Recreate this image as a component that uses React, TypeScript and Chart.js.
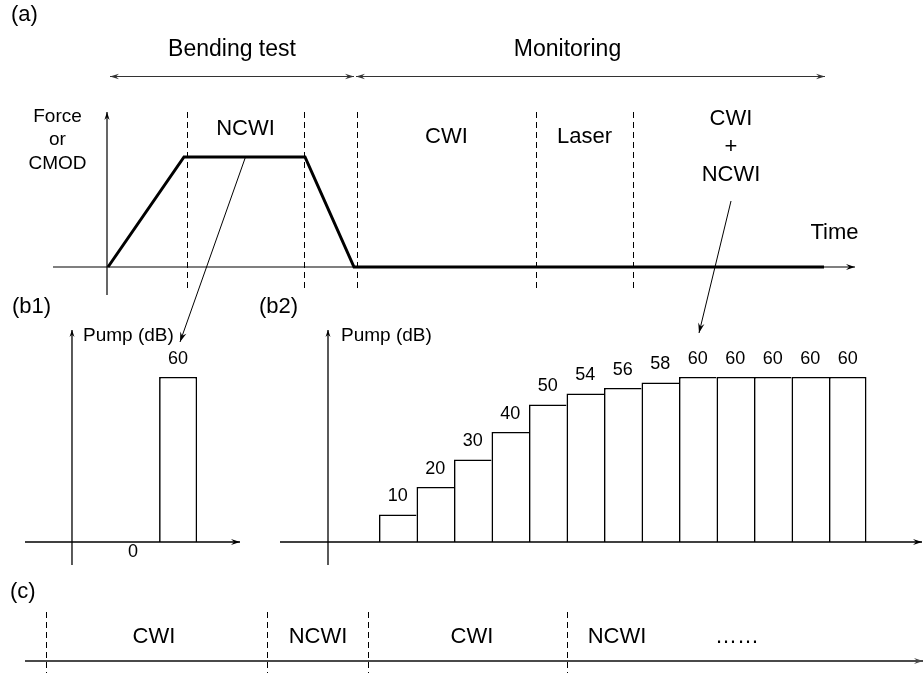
import React, { useEffect, useRef } from 'react';
import { Chart, registerables } from 'chart.js';

Chart.register(...registerables);

const FONT = '"Liberation Sans", Arial, Helvetica, sans-serif';
const W = 924;
const H = 674;

// ---------- Panel (a): loading history ----------
const aTime = [0.1, 7.7, 19.8, 24.7, 71.7];
const aForce = [0, 1, 1, 0, 0];
const aPhases = ['NCWI', 'CWI', 'Laser', 'CWI\n+\nNCWI'];
const aPhaseStart = [8.0, 25.0, 42.9, 52.6];
const aPhaseEnd = [19.7, 42.9, 52.6, 72.2];
const aStages = ['Bending test', 'Monitoring'];
const aStageStart = [0.3, 24.9];
const aStageEnd = [24.7, 71.8];
const aStageLabelAt = [12.5, 46.05];
const aTimeLabelAt = 72.75;

// ---------- Panel (b1): single pump step ----------
const b1Steps = [1.63, 2.83];
const b1Pump = [0, 60];

// ---------- Panel (b2): ramped pump steps ----------
const b2Steps = [1, 2, 3, 4, 5, 6, 7, 8, 9, 10, 11, 12, 13];
const b2Pump = [10, 20, 30, 40, 50, 54, 56, 58, 60, 60, 60, 60, 60];
const b2AxisAt = -0.86;

// ---------- Panel (c): alternating sequence ----------
const cPhases = ['CWI', 'NCWI', 'CWI', 'NCWI'];
const cBoundaries = [0, 22.1, 32.2, 52.1];
const cLabelAt = [10.8, 27.2, 42.6, 57.1];
const cEllipsisAt = 69.1;

// ---------- drawing helpers ----------
function txt(ctx: CanvasRenderingContext2D, s: string, x: number, y: number, size: number, align: CanvasTextAlign = 'center') {
  ctx.save();
  ctx.font = `${size}px ${FONT}`;
  ctx.fillStyle = '#000';
  ctx.textAlign = align;
  ctx.textBaseline = 'alphabetic';
  ctx.fillText(s, x, y);
  ctx.restore();
}

function head(ctx: CanvasRenderingContext2D, x: number, y: number, ang: number, len = 8, hw = 3) {
  ctx.save();
  ctx.translate(x, y);
  ctx.rotate(ang);
  ctx.beginPath();
  ctx.moveTo(0, 0);
  ctx.lineTo(-len, -hw);
  ctx.lineTo(-len * 0.65, 0);
  ctx.lineTo(-len, hw);
  ctx.closePath();
  ctx.fill();
  ctx.restore();
}

function arrow(
  ctx: CanvasRenderingContext2D,
  x1: number, y1: number, x2: number, y2: number,
  o: { w?: number; color?: string; start?: boolean; end?: boolean; len?: number; hw?: number } = {}
) {
  const { w = 1, color = '#000', start = false, end = true, len = 8, hw = 3 } = o;
  ctx.save();
  ctx.strokeStyle = color;
  ctx.fillStyle = color;
  ctx.lineWidth = w;
  ctx.beginPath();
  ctx.moveTo(x1, y1);
  ctx.lineTo(x2, y2);
  ctx.stroke();
  const ang = Math.atan2(y2 - y1, x2 - x1);
  if (end) head(ctx, x2, y2, ang, len, hw);
  if (start) head(ctx, x1, y1, ang + Math.PI, len, hw);
  ctx.restore();
}

function dashed(ctx: CanvasRenderingContext2D, x: number, y1: number, y2: number) {
  ctx.save();
  ctx.strokeStyle = '#000';
  ctx.lineWidth = 1;
  ctx.setLineDash([6, 4]);
  ctx.beginPath();
  ctx.moveTo(Math.round(x) + 0.5, y1);
  ctx.lineTo(Math.round(x) + 0.5, y2);
  ctx.stroke();
  ctx.restore();
}

function baseOptions(area: { l: number; t: number; r: number; b: number }, xr: number[], yr: number[]) {
  return {
    responsive: false,
    maintainAspectRatio: false,
    animation: false,
    events: [],
    layout: { padding: { left: area.l, top: area.t, right: W - area.r, bottom: H - area.b } },
    plugins: { legend: { display: false }, tooltip: { enabled: false }, title: { display: false } },
    scales: {
      x: { type: 'linear', display: false, offset: false, min: xr[0], max: xr[1] },
      y: { type: 'linear', display: false, min: yr[0], max: yr[1] },
    },
  };
}

// ---------- panel (a) ----------
const panelAPlugin = {
  id: 'panelA',
  beforeDatasetsDraw(chart: any) {
    const { ctx, chartArea: ca, scales } = chart;
    const x = scales.x;
    const y = scales.y;
    const y0 = y.getPixelForValue(0);
    const x0 = x.getPixelForValue(0);
    arrow(ctx, ca.left, y0, ca.right, y0, { w: 1.2, len: 9, hw: 3 });
    arrow(ctx, x0, ca.bottom, x0, ca.top, { w: 1.2, len: 8, hw: 2.6 });
    const bounds = Array.from(new Set([...aPhaseStart, ...aPhaseEnd.slice(0, -1)]));
    bounds.forEach((t) => dashed(ctx, x.getPixelForValue(t), ca.top, ca.bottom - 3));
  },
  afterDatasetsDraw(chart: any) {
    const { ctx, scales } = chart;
    const x = scales.x;
    const y = scales.y;
    txt(ctx, '(a)', 11, 21, 22, 'left');
    // stages
    aStages.forEach((s, i) => {
      arrow(ctx, x.getPixelForValue(aStageStart[i]), 76.5, x.getPixelForValue(aStageEnd[i]), 76.5, {
        w: 1.2, color: '#333', start: true, end: true, len: 9, hw: 2.8,
      });
      txt(ctx, s, x.getPixelForValue(aStageLabelAt[i]), 56, 23);
    });
    // y label
    txt(ctx, 'Force', 57.5, 122, 19);
    txt(ctx, 'or', 57.5, 145, 19);
    txt(ctx, 'CMOD', 57.5, 169, 19);
    // phase labels
    const baselines = [135, 143, 143, 125];
    aPhases.forEach((p, i) => {
      const cx = x.getPixelForValue((aPhaseStart[i] + aPhaseEnd[i]) / 2);
      p.split('\n').forEach((line, k) => txt(ctx, line, cx, baselines[i] + k * 28, 22));
    });
    txt(ctx, 'Time', x.getPixelForValue(aTimeLabelAt), 239, 22);
    // connectors to (b1) and (b2)
    const ncwiMid = (aPhaseStart[0] + aPhaseEnd[0]) / 2;
    arrow(ctx, x.getPixelForValue(ncwiMid), y.getPixelForValue(1), 180, 342, { w: 1, len: 10, hw: 3.2 });
    const mixMid = (aPhaseStart[3] + aPhaseEnd[3]) / 2;
    arrow(ctx, x.getPixelForValue(mixMid), 201, 699, 333, { w: 1, len: 10, hw: 3.2 });
  },
};

function makeA(): any {
  return {
    type: 'line',
    data: {
      datasets: [
        {
          data: aTime.map((t, i) => ({ x: t, y: aForce[i] })),
          borderColor: '#000',
          borderWidth: 3,
          pointRadius: 0,
          tension: 0,
          fill: false,
          borderJoinStyle: 'miter',
        },
      ],
    },
    options: baseOptions({ l: 53, t: 112, r: 855, b: 295 }, [-5.4, 74.8], [-0.2545, 1.409]),
    plugins: [panelAPlugin],
  };
}

// ---------- panel (b) helpers ----------
function pumpAxesPlugin(id: string, label: string, labelX: number, axisAt: number, pumpLabelX: number) {
  return {
    id,
    afterDatasetsDraw(chart: any) {
      const { ctx, chartArea: ca, scales } = chart;
      const x = scales.x;
      const y = scales.y;
      const y0 = y.getPixelForValue(0);
      const xa = x.getPixelForValue(axisAt);
      arrow(ctx, ca.left, y0, ca.right, y0, { w: 1.4, len: 9, hw: 3 });
      arrow(ctx, xa, ca.bottom, xa, ca.top, { w: 1.3, len: 7, hw: 2.5 });
      txt(ctx, label, labelX, 313, 22, 'left');
      txt(ctx, 'Pump (dB)', pumpLabelX, 341, 19, 'left');
      const meta = chart.getDatasetMeta(0);
      const values = chart.data.datasets[0].data;
      meta.data.forEach((bar: any, i: number) => {
        const v = values[i].y;
        if (v === 0) txt(ctx, String(v), bar.x, y0 + 15, 18);
        else txt(ctx, String(v), bar.x, bar.y - 13.5, 18);
      });
    },
  };
}

function makeB1(): any {
  return {
    type: 'bar',
    data: {
      datasets: [
        {
          data: b1Steps.map((s, i) => ({ x: s, y: b1Pump[i] })),
          backgroundColor: '#fff',
          borderColor: '#000',
          borderWidth: { top: 1.6, left: 1.6, right: 1.6, bottom: 0 },
          borderSkipped: false,
          barThickness: 38,
          inflateAmount: 0,
        },
      ],
    },
    options: baseOptions({ l: 25, t: 330, r: 240, b: 565 }, [-1.253, 4.48], [-8.36, 77.09]),
    plugins: [pumpAxesPlugin('b1', '(b1)', 12, 0, 83)],
  };
}

function makeB2(): any {
  const last = b2Steps.length - 1;
  return {
    type: 'bar',
    data: {
      datasets: [
        {
          data: b2Steps.map((s, i) => ({ x: s, y: b2Pump[i] })),
          backgroundColor: '#fff',
          borderColor: '#000',
          borderWidth: (c: any) => ({ top: 1.6, left: 1.6, bottom: 0, right: c.dataIndex === last ? 1.6 : 0 }),
          borderSkipped: false,
          barThickness: 37.5,
          inflateAmount: 0,
        },
      ],
    },
    options: baseOptions({ l: 280, t: 330, r: 922, b: 565 }, [-2.14, 14.98], [-8.36, 77.09]),
    plugins: [pumpAxesPlugin('b2', '(b2)', 259, b2AxisAt, 341)],
  };
}

// ---------- panel (c) ----------
const panelCPlugin = {
  id: 'panelC',
  afterDatasetsDraw(chart: any) {
    const { ctx, chartArea: ca, scales } = chart;
    const x = scales.x;
    const y = scales.y;
    const y0 = y.getPixelForValue(0);
    txt(ctx, '(c)', 10, 598, 22, 'left');
    cBoundaries.forEach((t) => dashed(ctx, x.getPixelForValue(t), ca.top, ca.bottom));
    arrow(ctx, ca.left, y0, ca.right - 1, y0, { w: 2, color: '#4a4a4a', len: 9, hw: 3 });
    cPhases.forEach((p, i) => txt(ctx, p, x.getPixelForValue(cLabelAt[i]), 643, 22));
    txt(ctx, '\u2026\u2026', x.getPixelForValue(cEllipsisAt), 643, 22);
  },
};

function makeC(): any {
  return {
    type: 'line',
    data: { datasets: [] },
    options: baseOptions({ l: 25, t: 612, r: 924, b: 673 }, [-2.1, 87.8], [-1.2, 4.9]),
    plugins: [panelCPlugin],
  };
}

function ChartCanvas({ make }: { make: () => any }) {
  const ref = useRef<HTMLCanvasElement>(null);
  useEffect(() => {
    if (!ref.current) return;
    const chart = new Chart(ref.current, make());
    return () => chart.destroy();
  }, []);
  return (
    <canvas
      ref={ref}
      width={W}
      height={H}
      style={{ position: 'absolute', left: 0, top: 0, width: W, height: H }}
    />
  );
}

export default function App() {
  return (
    <div style={{ position: 'absolute', left: 0, top: 0, width: W, height: H, background: '#fff', overflow: 'hidden' }}>
      <ChartCanvas make={makeA} />
      <ChartCanvas make={makeB1} />
      <ChartCanvas make={makeB2} />
      <ChartCanvas make={makeC} />
    </div>
  );
}
